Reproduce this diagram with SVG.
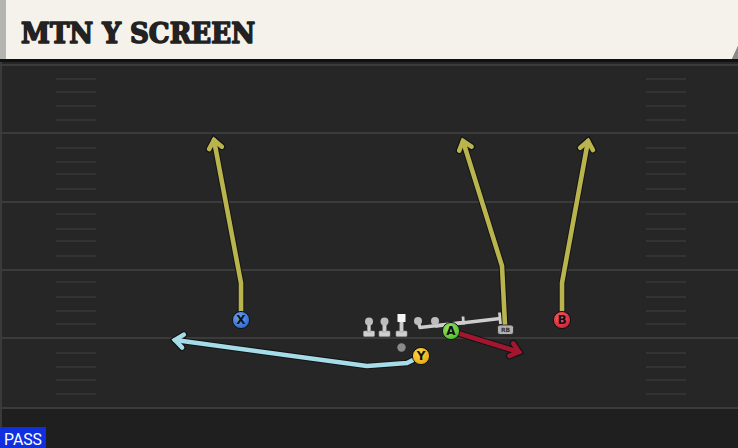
<svg xmlns="http://www.w3.org/2000/svg" width="738" height="448" viewBox="0 0 738 448">
<style>
.yl{stroke:#3b3b3b;stroke-width:2}
.hm{stroke:#383838;stroke-width:1.5}
.out{fill:none;stroke:#141414;stroke-width:6.6;stroke-linejoin:round;stroke-linecap:round}
.rt{fill:none;stroke-width:4.6;stroke-linejoin:round;stroke-linecap:round}
.yel{stroke:#bab44e}
.blu{stroke:#a6dce8}
.red{stroke:#a3162f}
.pl{stroke:#111;stroke-width:1}
.lt{font-family:"DejaVu Sans",sans-serif;font-weight:bold;font-size:12px;fill:#111;text-anchor:middle}
.ol{fill:#cfcfcf;stroke:#9a9a9a;stroke-width:0.6}
.blk{fill:none;stroke:#cdcdcd;stroke-width:3.4;stroke-linejoin:round}
.blkc{fill:none;stroke:#cdcdcd;stroke-width:2.8}
</style>
<defs>
<marker id="mo" markerUnits="userSpaceOnUse" markerWidth="24" markerHeight="24" refX="0" refY="0" viewBox="-14 -12 18 24" orient="auto" overflow="visible">
<path d="M-8,-6.5 L0,0 L-8,6.5" fill="none" stroke="#141414" stroke-width="7" stroke-linejoin="miter" stroke-miterlimit="6" stroke-linecap="round"/>
</marker>
<marker id="my" markerUnits="userSpaceOnUse" markerWidth="24" markerHeight="24" refX="0" refY="0" viewBox="-14 -12 18 24" orient="auto" overflow="visible">
<path d="M-8,-6.5 L0,0 L-8,6.5" fill="none" stroke="#bab44e" stroke-width="4.6" stroke-linejoin="miter" stroke-miterlimit="6" stroke-linecap="round"/>
</marker>
<marker id="mb" markerUnits="userSpaceOnUse" markerWidth="24" markerHeight="24" refX="0" refY="0" viewBox="-14 -12 18 24" orient="auto" overflow="visible">
<path d="M-8,-6.5 L0,0 L-8,6.5" fill="none" stroke="#a6dce8" stroke-width="4.6" stroke-linejoin="miter" stroke-miterlimit="6" stroke-linecap="round"/>
</marker>
<marker id="mr" markerUnits="userSpaceOnUse" markerWidth="24" markerHeight="24" refX="0" refY="0" viewBox="-14 -12 18 24" orient="auto" overflow="visible">
<path d="M-8,-6.5 L0,0 L-8,6.5" fill="none" stroke="#a3162f" stroke-width="4.6" stroke-linejoin="miter" stroke-miterlimit="6" stroke-linecap="round"/>
</marker>
<radialGradient id="gX" cx="0.4" cy="0.35" r="0.7"><stop offset="0" stop-color="#6aa2f0"/><stop offset="1" stop-color="#2e66c8"/></radialGradient>
<radialGradient id="gY" cx="0.4" cy="0.35" r="0.7"><stop offset="0" stop-color="#ffd84a"/><stop offset="1" stop-color="#e0a810"/></radialGradient>
<radialGradient id="gA" cx="0.4" cy="0.35" r="0.7"><stop offset="0" stop-color="#9ae864"/><stop offset="1" stop-color="#4cb828"/></radialGradient>
<radialGradient id="gB" cx="0.4" cy="0.35" r="0.7"><stop offset="0" stop-color="#f56070"/><stop offset="1" stop-color="#cc1e30"/></radialGradient>
</defs>

<g id="field">
<rect x="0" y="0" width="738" height="448" fill="#262626"/>
<rect x="0" y="408" width="738" height="40" fill="#1f1f1f"/>
<rect x="0" y="62" width="2" height="386" fill="#3a3a3a"/>
<line class="yl" x1="0" y1="65" x2="738" y2="65"/>
<line class="yl" x1="0" y1="133" x2="738" y2="133"/>
<line class="yl" x1="0" y1="202" x2="738" y2="202"/>
<line class="yl" x1="0" y1="270" x2="738" y2="270"/>
<line class="yl" x1="0" y1="338" x2="738" y2="338"/>
<line class="yl" x1="0" y1="408" x2="738" y2="408"/>
<g id="hash-left">
<line class="hm" x1="56" y1="79" x2="96" y2="79"/><line class="hm" x1="56" y1="92" x2="96" y2="92"/><line class="hm" x1="56" y1="106" x2="96" y2="106"/><line class="hm" x1="56" y1="120" x2="96" y2="120"/>
<line class="hm" x1="56" y1="148" x2="96" y2="148"/><line class="hm" x1="56" y1="162" x2="96" y2="162"/><line class="hm" x1="56" y1="174" x2="96" y2="174"/><line class="hm" x1="56" y1="189" x2="96" y2="189"/>
<line class="hm" x1="56" y1="214" x2="96" y2="214"/><line class="hm" x1="56" y1="229" x2="96" y2="229"/><line class="hm" x1="56" y1="241" x2="96" y2="241"/><line class="hm" x1="56" y1="256" x2="96" y2="256"/>
<line class="hm" x1="56" y1="282" x2="96" y2="282"/><line class="hm" x1="56" y1="297" x2="96" y2="297"/><line class="hm" x1="56" y1="311" x2="96" y2="311"/><line class="hm" x1="56" y1="324" x2="96" y2="324"/>
<line class="hm" x1="56" y1="353" x2="96" y2="353"/><line class="hm" x1="56" y1="367" x2="96" y2="367"/><line class="hm" x1="56" y1="380" x2="96" y2="380"/><line class="hm" x1="56" y1="394" x2="96" y2="394"/>
</g>
<g id="hash-right">
<line class="hm" x1="646" y1="79" x2="686" y2="79"/><line class="hm" x1="646" y1="92" x2="686" y2="92"/><line class="hm" x1="646" y1="106" x2="686" y2="106"/><line class="hm" x1="646" y1="120" x2="686" y2="120"/>
<line class="hm" x1="646" y1="148" x2="686" y2="148"/><line class="hm" x1="646" y1="162" x2="686" y2="162"/><line class="hm" x1="646" y1="174" x2="686" y2="174"/><line class="hm" x1="646" y1="189" x2="686" y2="189"/>
<line class="hm" x1="646" y1="214" x2="686" y2="214"/><line class="hm" x1="646" y1="229" x2="686" y2="229"/><line class="hm" x1="646" y1="241" x2="686" y2="241"/><line class="hm" x1="646" y1="256" x2="686" y2="256"/>
<line class="hm" x1="646" y1="282" x2="686" y2="282"/><line class="hm" x1="646" y1="297" x2="686" y2="297"/><line class="hm" x1="646" y1="311" x2="686" y2="311"/><line class="hm" x1="646" y1="324" x2="686" y2="324"/>
<line class="hm" x1="646" y1="353" x2="686" y2="353"/><line class="hm" x1="646" y1="367" x2="686" y2="367"/><line class="hm" x1="646" y1="380" x2="686" y2="380"/><line class="hm" x1="646" y1="394" x2="686" y2="394"/>
</g>
</g>

<g id="header">
<rect x="0" y="0" width="738" height="62" fill="#111"/>
<polygon points="732,59 738,46 738,59" fill="#8a8a8a"/>
<polygon points="0,0 738,0 738,46 732,59 0,59" fill="#f5f2eb"/>
<rect x="0" y="0" width="6" height="59" fill="#b4b4b0"/>
<text x="21" y="43" font-family="'DejaVu Serif','Liberation Serif',serif" font-weight="900" font-size="27" fill="#222" stroke="#222" stroke-width="1.6" stroke-linejoin="round" textLength="234" lengthAdjust="spacingAndGlyphs">MTN Y SCREEN</text>
</g>

<g id="connectors">
<path class="out" d="M241,320 L241,283 L214,140" marker-end="url(#mo)"/>
<path class="rt yel" d="M241,320 L241,283 L214,140" marker-end="url(#my)"/>
<path class="out" d="M505,325 L502,266 L463,141" marker-end="url(#mo)"/>
<path class="rt yel" d="M505,325 L502,266 L463,141" marker-end="url(#my)"/>
<path class="out" d="M562,320 L562,283 L588,141" marker-end="url(#mo)"/>
<path class="rt yel" d="M562,320 L562,283 L588,141" marker-end="url(#my)"/>
<path class="out" d="M421,356 L407,363 L367,366 L175,340" marker-end="url(#mo)"/>
<path class="rt blu" d="M421,356 L407,363 L367,366 L175,340" marker-end="url(#mb)"/>
<path class="out" d="M451,331 L519,352" marker-end="url(#mo)"/>
<path class="rt red" d="M451,331 L519,352" marker-end="url(#mr)"/>
<g id="blocks">
<path class="blk" d="M418,321 L420,327.5 L463,322.5"/>
<line class="blkc" x1="463" y1="316.5" x2="463.6" y2="324.5"/>
<path class="blk" d="M435,321 L436,326 L500,318.5"/>
<line class="blkc" x1="499.5" y1="312.5" x2="500.5" y2="324"/>
</g>
</g>

<g id="OL1"><rect class="ol" x="363.5" y="331" width="11" height="5.5" rx="1"/><rect class="ol" x="367.3" y="322" width="3.4" height="10"/><circle cx="369" cy="321.5" r="4" fill="#bdbdbd"/></g>
<g id="OL2"><rect class="ol" x="379" y="331" width="11" height="5.5" rx="1"/><rect class="ol" x="382.8" y="322" width="3.4" height="10"/><circle cx="384.5" cy="321.5" r="4" fill="#bdbdbd"/></g>
<g id="C"><rect class="ol" x="396" y="331" width="11" height="5.5" rx="1"/><rect class="ol" x="399.8" y="321" width="3.4" height="11"/><rect x="397.5" y="314" width="8" height="8" fill="#f6f6f6"/></g>
<g id="OL4"><circle cx="418" cy="321" r="4" fill="#bdbdbd"/></g>
<g id="OL5"><circle cx="435" cy="321" r="4" fill="#bdbdbd"/></g>
<g id="QB"><circle cx="401.5" cy="347.5" r="4.2" fill="#8a8a8a"/></g>

<g id="RB"><rect x="497.5" y="325" width="16" height="9.5" rx="2.5" fill="#b0b0b0" stroke="#222" stroke-width="0.8"/><text x="505.5" y="332.3" font-family="'DejaVu Sans',sans-serif" font-weight="bold" font-size="6" fill="#333" text-anchor="middle">RB</text></g>

<g id="X"><circle class="pl" cx="241" cy="320" r="8.6" fill="url(#gX)"/><text class="lt" x="241" y="324.3">X</text></g>
<g id="Y"><circle class="pl" cx="421" cy="356" r="8.6" fill="url(#gY)"/><text class="lt" x="421" y="360.3">Y</text></g>
<g id="A"><circle class="pl" cx="451" cy="331" r="8.6" fill="url(#gA)"/><text class="lt" x="451" y="335.3">A</text></g>
<g id="B"><circle class="pl" cx="562" cy="320" r="8.6" fill="url(#gB)"/><text class="lt" x="562" y="324.3">B</text></g>

<g id="pass-badge">
<rect x="0" y="427" width="46" height="21" fill="#0f2fe0"/>
<text x="4" y="445" font-family="Roboto,'DejaVu Sans',sans-serif" font-size="16.5" fill="#ffffff" textLength="38" lengthAdjust="spacingAndGlyphs">PASS</text>
</g>
</svg>
